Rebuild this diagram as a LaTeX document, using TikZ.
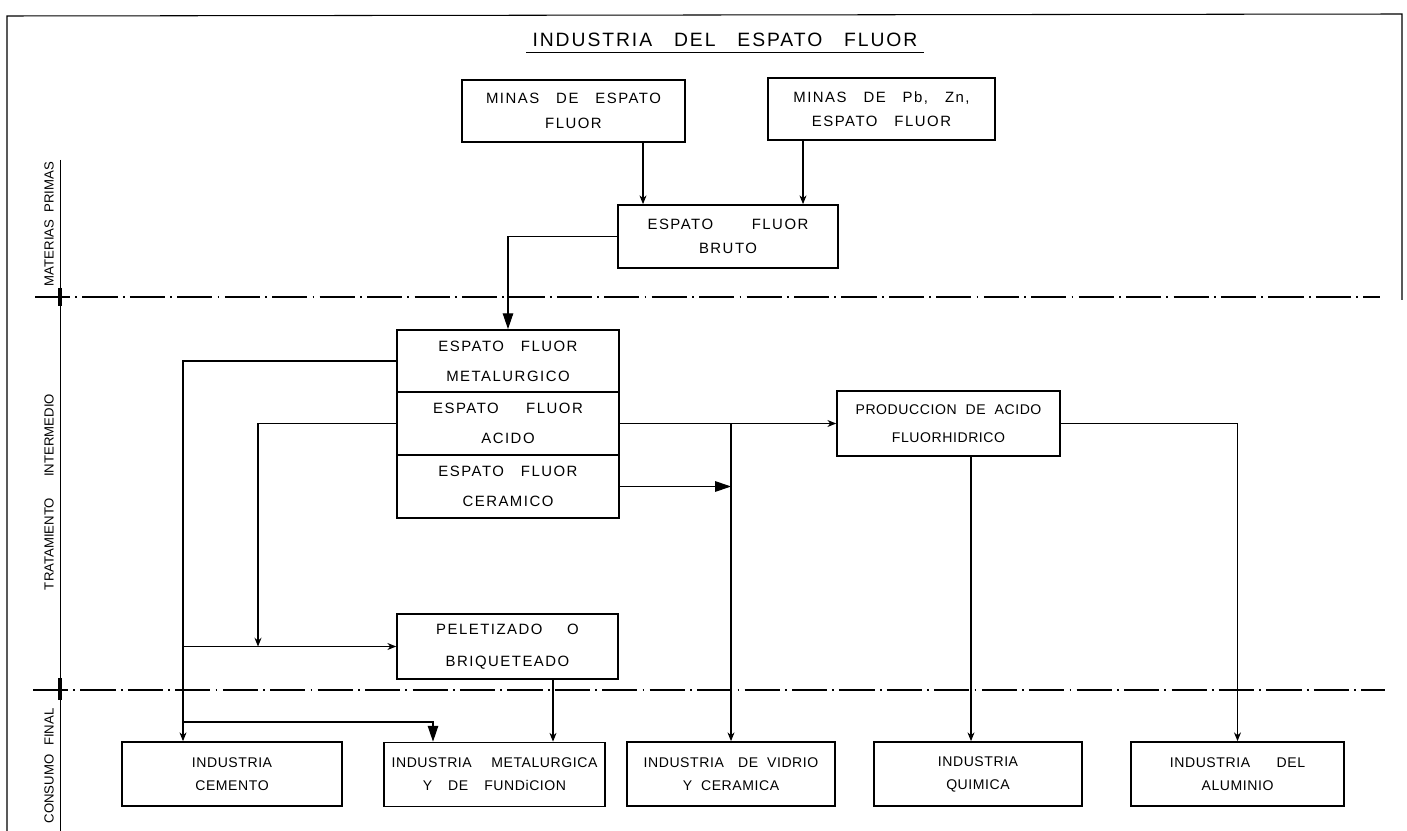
\documentclass[tikz,border=0pt]{standalone}
\usepackage{fontspec}
\setmainfont{Liberation Sans}
\newfontfamily\cajafont[LetterSpace=10,WordSpace=2.5]{Liberation Sans}
\newfontfamily\finalfont[LetterSpace=4,WordSpace=2]{Liberation Sans}
\newfontfamily\titulofont[LetterSpace=10,WordSpace=3]{Liberation Sans}
\usetikzlibrary{arrows.meta}

\tikzset{
	caja/.style={draw, line width=1pt, inner sep=0pt, align=center, font=\cajafont\fontsize{8.5}{14}\selectfont},
	cajab/.style={caja, font=\finalfont\fontsize{8}{13}\selectfont},
	flecha/.style={line width=0.6pt, -{Stealth[length=5pt,width=4pt]}},
	flechota/.style={line width=0.6pt, -{Triangle[length=9pt,width=6pt]}},
	fase/.style={rotate=90, font=\fontsize{7.5}{9}\selectfont},
	separa/.style={line width=0.7pt, dash pattern=on 20pt off 3pt on 1pt off 3pt}
}

\begin{document}
\begin{tikzpicture}[x=0.02cm, y=-0.02cm]
	\useasboundingbox (0,0) rectangle (1407,831);
	\draw [line width=0.6pt] (7,831) -- (7,16) -- (1402,14) -- (1402,300);
	\node [font=\titulofont\fontsize{11}{13}\selectfont, anchor=base] (titulo) at (725,47) {INDUSTRIA DEL ESPATO FLUOR};
	\draw [line width=0.7pt] ([yshift=-3pt]titulo.base west) -- ([yshift=-3pt]titulo.base east);

	\draw [separa] (35,297) -- (1380,297);
	\draw [separa] (33,690) -- (1385,690);
	\draw [line width=0.5pt] (60,160) -- (60,831);
	\draw [line width=2pt] (60,288) -- (60,306);
	\draw [line width=2pt] (60,678) -- (60,700);
	\node [fase] (materias) at (49,224) {MATERIAS\hspace{2pt} PRIMAS};
	\node [fase] (tratamiento) at (49,492) {TRATAMIENTO\hspace{12pt}INTERMEDIO};
	\node [fase] (consumo) at (49,766) {CONSUMO\hspace{5pt}FINAL};

	\node [caja, minimum width=4.46cm, minimum height=1.24cm] (minas) at (573.5,111) {MINAS DE ESPATO\\FLUOR};
	\node [caja, minimum width=4.54cm, minimum height=1.24cm] (minaspb) at (881.5,109) {MINAS DE Pb, Zn,\\ESPATO FLUOR};
	\node [caja, minimum width=4.40cm, minimum height=1.26cm] (bruto) at (728,236.5) {ESPATO\hspace{22pt}FLUOR\\BRUTO};
	\node [caja, minimum width=4.44cm, minimum height=1.24cm] (metal) at (508,361) {ESPATO FLUOR\\[3pt]METALURGICO};
	\node [caja, minimum width=4.44cm, minimum height=1.26cm] (acido) at (508,423.5) {ESPATO\hspace{6pt} FLUOR\\[3pt]ACIDO};
	\node [caja, minimum width=4.44cm, minimum height=1.26cm] (ceram) at (508,486.5) {ESPATO FLUOR\\[3pt]CERAMICO};
	\node [caja, minimum width=4.42cm, minimum height=1.30cm] (pelet) at (507.5,646.5) {PELETIZADO\hspace{14pt}O\\[4pt]BRIQUETEADO};
	\node [cajab, minimum width=4.46cm, minimum height=1.30cm] (prod) at (948.5,423.5) {PRODUCCION DE ACIDO\\[3pt]FLUORHIDRICO};
	\node [cajab, minimum width=4.40cm, minimum height=1.28cm] (cemento) at (232,774) {INDUSTRIA\\CEMENTO};
	\node [cajab, minimum width=4.42cm, minimum height=1.28cm] (metalurg) at (494.5,774.5) {INDUSTRIA\hspace{6pt} METALURGICA\\Y\hspace{4pt} DE\hspace{4pt} FUNDiCION};
	\node [cajab, minimum width=4.16cm, minimum height=1.28cm] (vidrio) at (731,774) {INDUSTRIA\hspace{3pt} DE VIDRIO\\Y CERAMICA};
	\node [cajab, minimum width=4.16cm, minimum height=1.28cm] (quimica) at (978,774) {INDUSTRIA\\QUIMICA};
	\node [cajab, minimum width=4.26cm, minimum height=1.28cm] (aluminio) at (1237.5,774) {INDUSTRIA\hspace{10pt} DEL\\ALUMINIO};

	\coordinate (xa) at (643,0);
	\coordinate (xb) at (803,0);
	\coordinate (xc) at (183,0);
	\coordinate (xd) at (258,0);
	\coordinate (xe) at (433,722);
	\coordinate (xf) at (553,0);
	\coordinate (xg) at (971,0);

	\draw [flecha] (xa |- minas.south) -- (xa |- bruto.north);
	\draw [flecha] (xb |- minaspb.south) -- (xb |- bruto.north);
	\draw [flechota] (bruto.west) -| (metal.north);
	\draw [flecha] (metal.west) -| (xc |- cemento.north);
	\draw [flecha] (acido.west) -| (xd |- pelet.west);
	\draw [flecha] (xc |- pelet.west) -- (pelet.west);
	\draw [flechota] (xc |- xe) -| (xe |- metalurg.north);
	\draw [flecha] (xf |- pelet.south) -- (xf |- metalurg.north);
	\draw [flecha] (acido.east) -- (prod.west);
	\draw [flecha] (acido.east -| vidrio.north) -- (vidrio.north);
	\draw [flechota] (ceram.east) -- (ceram.east -| vidrio.north);
	\draw [flecha] (xg |- prod.south) -- (xg |- quimica.north);
	\draw [flecha] (prod.east) -| (aluminio.north);
\end{tikzpicture}
\end{document}
